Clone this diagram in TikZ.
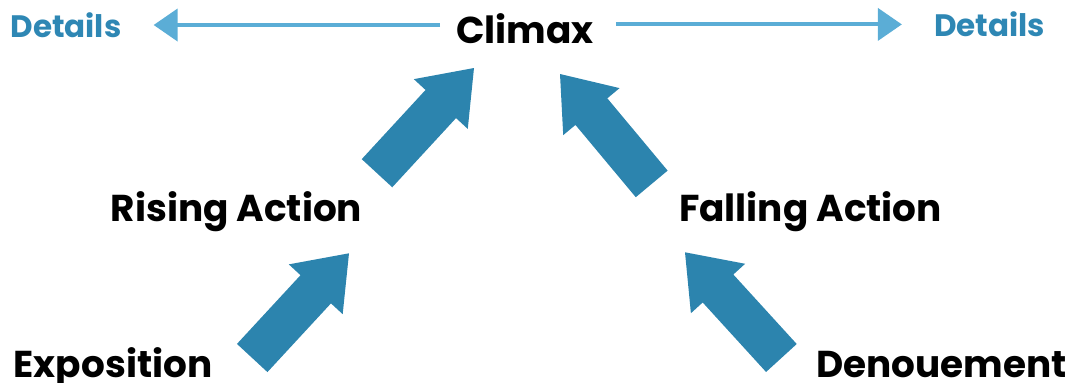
\documentclass[tikz,border=0pt]{standalone}
\usepackage{fontspec}
\setmainfont{Poppins}
\usetikzlibrary{arrows.meta,calc}

\definecolor{blockblue}{RGB}{44,132,174}
\definecolor{lineblue}{RGB}{91,173,214}
\definecolor{detailblue}{RGB}{46,135,180}

% Block arrow from tail (#1) to tip (#2): shaft 41.5pt wide, head 73.4pt wide and 49pt long
\newcommand\blockarrow[2]{%
  \coordinate (#1-#2-h) at ($(#2)!49pt!(#1)$);
  \fill[blockblue]
    ($(#1)!20.75pt!90:(#2)$) --
    ($(#1-#2-h)!20.75pt!90:(#2)$) --
    ($(#1-#2-h)!36.7pt!90:(#2)$) --
    (#2) --
    ($(#1-#2-h)!36.7pt!-90:(#2)$) --
    ($(#1-#2-h)!20.75pt!-90:(#2)$) --
    ($(#1)!20.75pt!-90:(#2)$) -- cycle;
}

\begin{document}
\begin{tikzpicture}[x=1pt,y=-1pt,
  stage/.style={font=\fontsize{37.4}{37.4}\selectfont\bfseries, text=black, inner sep=0pt, anchor=base},
  detail/.style={font=\fontsize{31}{31}\selectfont\bfseries, text=detailblue, inner sep=0pt, anchor=base},
  thinarrow/.style={draw=lineblue, line width=4pt, -{Triangle[length=24pt,width=32pt]}}]
  \useasboundingbox (0,0) rectangle (1072,383);

  % labels
  \node[stage]  (climax) at (525,43)    {Climax};
  \node[detail] (dl)     at (66,37.3)   {Details};
  \node[detail] (dr)     at (989.5,36.7){Details};
  \node[stage]  (rise)   at (236.5,221) {Rising Action};
  \node[stage]  (fall)   at (810.5,221) {Falling Action};
  \node[stage]  (expo)   at (113,377)   {Exposition};
  \node[stage]  (denou)  at (941.5,377) {Denouement};

  % thin arrows from the climax out to the details
  \draw[thinarrow, shorten <=16pt, shorten >=32pt] (climax.west |- dl.east) -- (dl.east);
  \draw[thinarrow, shorten <=22pt, shorten >=32pt] (climax.east |- dr.west) -- (dr.west);

  % ends of the block arrows
  \coordinate (a1t) at (377,173.2);   \coordinate (a1h) at (474,68);
  \coordinate (a2t) at (651.7,183.9); \coordinate (a2h) at (560,74);
  \coordinate (a3t) at (252.2,358);   \coordinate (a3h) at (349,253.3);
  \coordinate (a4t) at (781.4,358);   \coordinate (a4h) at (685,252.3);

  \blockarrow{a1t}{a1h}
  \blockarrow{a2t}{a2h}
  \blockarrow{a3t}{a3h}
  \blockarrow{a4t}{a4h}
\end{tikzpicture}
\end{document}
